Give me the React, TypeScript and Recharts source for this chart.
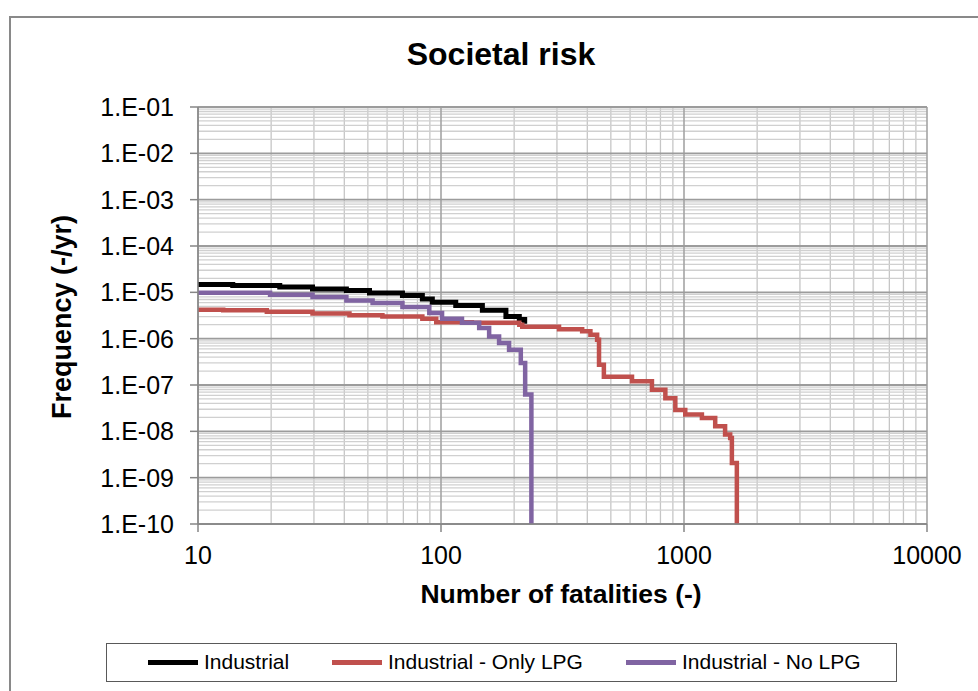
import React from 'react';
import { LineChart, Line, XAxis, YAxis, CartesianGrid } from 'recharts';

// F-N curves: frequency of N or more fatalities per year
const industrial = [
  { n: 10, f: 1.47e-5 },
  { n: 13.9, f: 1.4e-5 },
  { n: 21.7, f: 1.31e-5 },
  { n: 29.6, f: 1.18e-5 },
  { n: 40.8, f: 1.1e-5 },
  { n: 50.8, f: 9.7e-6 },
  { n: 69.4, f: 8.5e-6 },
  { n: 83.8, f: 7.2e-6 },
  { n: 92.1, f: 6.1e-6 },
  { n: 115, f: 5.2e-6 },
  { n: 148, f: 4.1e-6 },
  { n: 185, f: 3.0e-6 },
  { n: 210, f: 2.6e-6 },
  { n: 221, f: 2.1e-6 },
];

const onlyLpg = [
  { n: 10, f: 4.2e-6 },
  { n: 12.7, f: 4.1e-6 },
  { n: 19.2, f: 3.8e-6 },
  { n: 29.6, f: 3.5e-6 },
  { n: 42, f: 3.2e-6 },
  { n: 57.4, f: 3.0e-6 },
  { n: 83.8, f: 2.7e-6 },
  { n: 95.6, f: 2.25e-6 },
  { n: 134, f: 2.2e-6 },
  { n: 210, f: 2.0e-6 },
  { n: 216, f: 1.8e-6 },
  { n: 306, f: 1.6e-6 },
  { n: 381, f: 1.44e-6 },
  { n: 412, f: 1.22e-6 },
  { n: 439, f: 9.5e-7 },
  { n: 447, f: 2.75e-7 },
  { n: 468, f: 1.5e-7 },
  { n: 611, f: 1.2e-7 },
  { n: 738, f: 7.9e-8 },
  { n: 838, f: 5.2e-8 },
  { n: 921, f: 2.9e-8 },
  { n: 1012, f: 2.3e-8 },
  { n: 1185, f: 1.94e-8 },
  { n: 1344, f: 1.28e-8 },
  { n: 1476, f: 8.5e-9 },
  { n: 1549, f: 7.2e-9 },
  { n: 1574, f: 2.07e-9 },
  { n: 1650, f: 1e-10 },
];

const noLpg = [
  { n: 10, f: 9.8e-6 },
  { n: 19.8, f: 8.9e-6 },
  { n: 29.6, f: 7.9e-6 },
  { n: 40.8, f: 6.7e-6 },
  { n: 52.3, f: 5.9e-6 },
  { n: 69.4, f: 4.8e-6 },
  { n: 89.5, f: 3.6e-6 },
  { n: 101, f: 2.7e-6 },
  { n: 122, f: 2.2e-6 },
  { n: 143.6, f: 1.7e-6 },
  { n: 157.8, f: 1.12e-6 },
  { n: 173.4, f: 8.1e-7 },
  { n: 190.6, f: 5.8e-7 },
  { n: 213, f: 3.0e-7 },
  { n: 222, f: 6.2e-8 },
  { n: 235.5, f: 1e-10 },
];

const xTicks = [10, 100, 1000, 10000];
const yTicks = [1e-10, 1e-9, 1e-8, 1e-7, 1e-6, 1e-5, 1e-4, 1e-3, 1e-2, 1e-1];

const legendItems = [
  { name: 'Industrial', color: '#000000' },
  { name: 'Industrial - Only LPG', color: '#C0504D' },
  { name: 'Industrial - No LPG', color: '#8064A2' },
];

// minor grid values: 2..9 within each decade
const minorsOf = (decades: number[]) => {
  const out: number[] = [];
  decades.forEach((d) => {
    for (let k = 2; k <= 9; k++) out.push(d * k);
  });
  return out;
};
const xMinor = minorsOf([10, 100, 1000]);
const yMinor = minorsOf(yTicks.slice(0, -1));

const FONT = '"Liberation Sans", Arial, sans-serif';

const fmtY = (v: number) => {
  const e = Math.round(-Math.log10(v));
  return `1.E-${String(e).padStart(2, '0')}`;
};

const applyScale = (axis: any, v: number) => {
  const s = axis && axis.scale;
  if (typeof s === 'function') return s(v);
  if (s && typeof s.map === 'function') return s.map(v);
  return 0;
};

const vGen = (vals: number[]) => ({ xAxis }: any) => vals.map((v) => applyScale(xAxis, v));
const hGen = (vals: number[]) => ({ yAxis }: any) => vals.map((v) => applyScale(yAxis, v));

export default function App() {
  return (
    <div style={{ position: 'relative', width: 978, height: 691, overflow: 'hidden', background: '#fff', fontFamily: FONT }}>
      <style>{`body{margin:0;overflow:hidden;background:#fff}`}</style>
      <div
        style={{
          position: 'absolute',
          left: 9,
          top: 16,
          width: 1000,
          height: 700,
          border: '2px solid #898989',
          boxSizing: 'border-box',
        }}
      />
      <div
        style={{
          position: 'absolute',
          left: 301,
          top: 38,
          width: 400,
          textAlign: 'center',
          fontSize: 32,
          lineHeight: '32px',
          fontWeight: 'bold',
          color: '#000',
        }}
      >
        Societal risk
      </div>
      <div style={{ position: 'absolute', left: 0, top: 0 }}>
        <LineChart width={978} height={691} margin={{ top: 107, right: 51, bottom: 107, left: 0 }}>
          <CartesianGrid horizontal={false} verticalCoordinatesGenerator={vGen(xMinor)} stroke="#c6c6c6" strokeWidth={1.3} />
          <CartesianGrid vertical={false} horizontalCoordinatesGenerator={hGen(yMinor)} stroke="#d0d0d0" strokeWidth={1.3} />
          <CartesianGrid horizontal={false} verticalCoordinatesGenerator={vGen(xTicks)} stroke="#a4a4a4" strokeWidth={1.6} />
          <CartesianGrid vertical={false} horizontalCoordinatesGenerator={hGen(yTicks)} stroke="#9c9c9c" strokeWidth={1.8} />
          <XAxis
            type="number"
            dataKey="n"
            scale="log"
            domain={[10, 10000]}
            allowDataOverflow
            ticks={xTicks}
            height={60}
            tickSize={8}
            tickMargin={14}
            axisLine={{ stroke: '#868686', strokeWidth: 1.5 }}
            tickLine={{ stroke: '#868686', strokeWidth: 1.5 }}
            tick={{ fill: '#000', fontSize: 25, fontFamily: FONT }}
            interval={0}
          />
          <YAxis
            type="number"
            dataKey="f"
            scale="log"
            domain={[1e-10, 0.1]}
            allowDataOverflow
            ticks={yTicks}
            width={198}
            tickSize={8}
            tickMargin={16}
            axisLine={{ stroke: '#868686', strokeWidth: 1.5 }}
            tickLine={{ stroke: '#868686', strokeWidth: 1.5 }}
            tick={{ fill: '#000', fontSize: 25, fontFamily: FONT }}
            tickFormatter={fmtY}
            interval={0}
          />
          <Line data={industrial} dataKey="f" type="stepAfter" stroke="#000000" strokeWidth={5} dot={false} isAnimationActive={false} />
          <Line data={onlyLpg} dataKey="f" type="stepAfter" stroke="#C0504D" strokeWidth={4.5} dot={false} isAnimationActive={false} />
          <Line data={noLpg} dataKey="f" type="stepAfter" stroke="#8064A2" strokeWidth={4.5} dot={false} isAnimationActive={false} />
        </LineChart>
      </div>
      <div
        style={{
          position: 'absolute',
          left: 361,
          top: 581,
          width: 400,
          textAlign: 'center',
          fontSize: 26.5,
          lineHeight: '26px',
          fontWeight: 'bold',
          color: '#000',
        }}
      >
        Number of fatalities (-)
      </div>
      <div
        style={{
          position: 'absolute',
          left: 62 - 150,
          top: 317 - 13,
          width: 300,
          textAlign: 'center',
          fontSize: 27,
          lineHeight: '26px',
          fontWeight: 'bold',
          color: '#000',
          transform: 'rotate(-90deg)',
        }}
      >
        Frequency (-/yr)
      </div>
      <div
        style={{
          position: 'absolute',
          left: 106,
          top: 643,
          width: 791,
          height: 39,
          border: '1.5px solid #595959',
          boxSizing: 'border-box',
        }}
      >
        {legendItems.map((it, i) => {
          const lefts = [41, 225, 519];
          return (
            <div
              key={it.name}
              style={{ position: 'absolute', left: lefts[i], top: 0, height: 36, display: 'flex', alignItems: 'center' }}
            >
              <div style={{ width: 50, height: 5, background: it.color, marginRight: 6 }} />
              <span style={{ fontSize: 21, color: '#000', whiteSpace: 'nowrap' }}>{it.name}</span>
            </div>
          );
        })}
      </div>
    </div>
  );
}
